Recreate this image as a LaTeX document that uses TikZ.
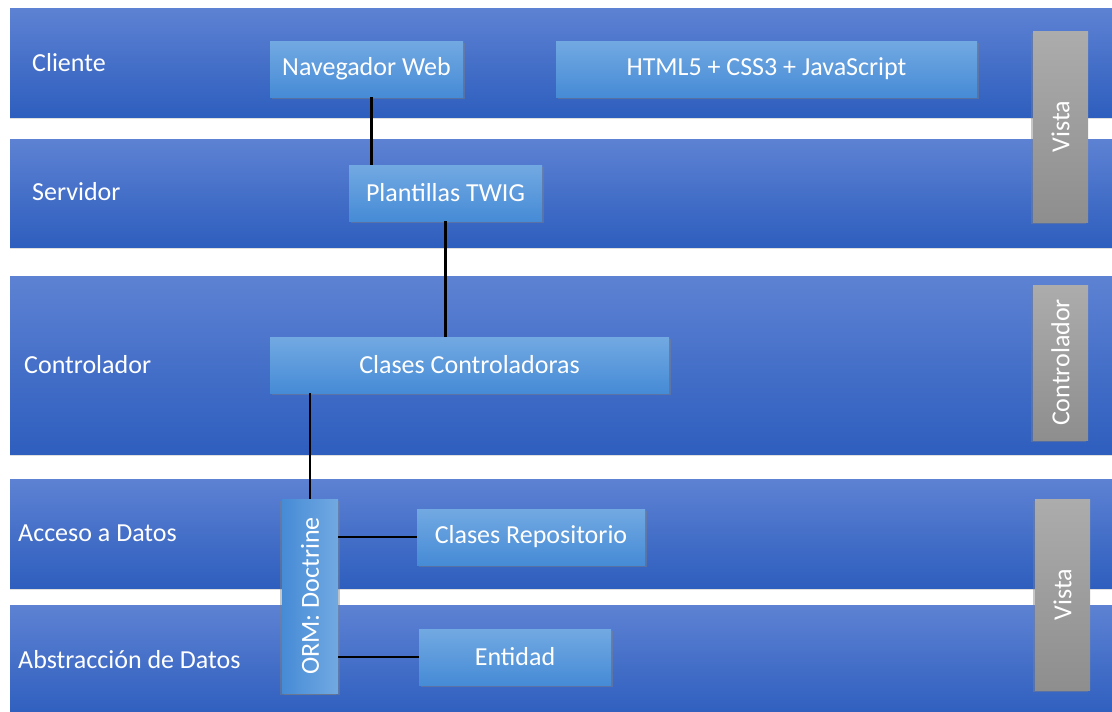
\documentclass[tikz,border=0pt]{standalone}
\usepackage{fontspec}
\setmainfont{Carlito}
\usetikzlibrary{shadows}

\definecolor{bandtop}{RGB}{93,130,211}
\definecolor{bandbot}{RGB}{46,94,190}
\definecolor{boxtop}{RGB}{114,169,226}
\definecolor{boxbot}{RGB}{70,139,214}
\definecolor{graylt}{RGB}{172,172,172}
\definecolor{graydk}{RGB}{142,142,142}

% turned nodes (rotate=90): local top is the left side, local right is the upper end
\tikzset{
  txt/.style={font=\fontsize{26}{31}\selectfont, text=white},
  band/.style={rectangle, inner sep=0pt, draw=none,
    top color=bandtop, bottom color=bandbot,
    drop shadow={shadow xshift=0pt, shadow yshift=-2pt, opacity=0.25}},
  box/.style={rectangle, inner sep=0pt, draw=none, txt,
    top color=boxtop, bottom color=boxbot,
    drop shadow={shadow xshift=1.5pt, shadow yshift=-2pt, opacity=0.45}},
  vbox/.style={box, rotate=90, left color=boxbot, right color=boxtop,
    drop shadow={shadow xshift=-2pt, shadow yshift=-1.5pt, opacity=0.45}},
  tag/.style={rectangle, inner sep=0pt, draw=none, txt, rotate=90,
    top color=graylt, bottom color=graydk,
    drop shadow={shadow xshift=-2pt, shadow yshift=-1.5pt, opacity=0.45}},
  lane/.style={txt, anchor=west, inner sep=0pt},
  link/.style={line width=2.2pt, black}
}

\begin{document}
\begin{tikzpicture}[x=1pt, y=-1pt]
  \useasboundingbox (0,0) rectangle (1112,712);
  \clip (0,0) rectangle (1112,712);

  % horizontal layers
  \node[band, minimum width=1110, minimum height=109] (bCli) at (565,62.5) {};
  \node[band, minimum width=1110, minimum height=108] (bSrv) at (565,193) {};
  \node[band, minimum width=1110, minimum height=178] (bCtl) at (565,365) {};
  \node[band, minimum width=1110, minimum height=109] (bAcc) at (565,533.5) {};
  \node[band, minimum width=1110, minimum height=112] (bAbs) at (565,661) {};

  % layer names
  \node[lane] (lCli) at (32,63)  {Cliente};
  \node[lane] (lSrv) at (32,192) {Servidor};
  \node[lane] (lCtl) at (24,365) {Controlador};
  \node[lane] (lAcc) at (18,533) {Acceso a Datos};
  \node[lane] (lAbs) at (18,660) {Abstracción de Datos};

  % components
  \node[box, minimum width=193, minimum height=56] (nav)  at (366.5,69)  {Navegador Web};
  \node[box, minimum width=421, minimum height=56] (html) at (766.5,69)  {HTML5 + CSS3 + JavaScript};
  \node[box, minimum width=193, minimum height=56] (twig) at (445.5,193) {Plantillas TWIG};
  \node[box, minimum width=399, minimum height=56] (ctl)  at (469.5,365) {Clases Controladoras};
  \node[vbox, minimum width=194, minimum height=56] (orm) at (310,596)  {ORM: Doctrine};
  \node[box, minimum width=228, minimum height=56] (repo) at (531,537)  {Clases Repositorio};
  \node[box, minimum width=192, minimum height=56] (ent)  at (515,657)  {Entidad};

  % MVC tags
  \node[tag, minimum width=191, minimum height=55] (vTop) at (1060.5,126.5) {Vista};
  \node[tag, minimum width=155, minimum height=55] (cMid) at (1060.5,362.5) {Controlador};
  \node[tag, minimum width=191, minimum height=55] (vBot) at (1062.5,594.5) {Vista};

  % connectors (orm is turned by 90 degrees: its east side is on top, its south side on the right)
  \coordinate (navS)  at ([xshift=5pt]nav.south);
  \draw[link] (navS) -- (navS |- twig.north);
  \draw[link] (twig.south) -- (twig.south |- ctl.north);
  \coordinate (ctlS) at (310,393);
  \draw[link] (ctlS) -- (orm.east);
  \draw[link] (orm.south |- repo.west) -- (repo.west);
  \draw[link] (orm.south |- ent.west) -- (ent.west);
\end{tikzpicture}
\end{document}
